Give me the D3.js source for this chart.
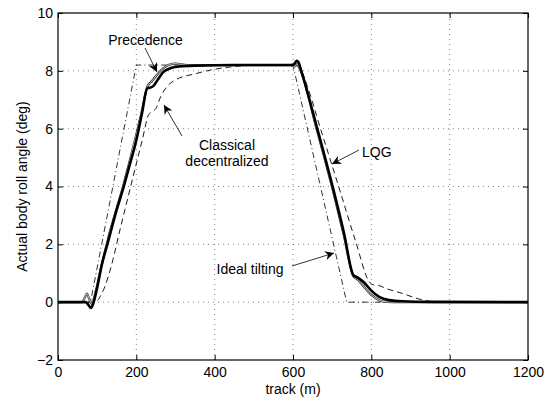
<!DOCTYPE html>
<html>
<head>
<meta charset="utf-8">
<script src="https://cdn.jsdelivr.net/npm/d3@7"></script>
<style>
  body { margin: 0; background: #fff; }
  svg text { font-family: "Liberation Sans", Arial, sans-serif; font-size: 14px; fill: #000; }
</style>
</head>
<body>
<div class="container"></div>
<script>
var w = 558, h = 400;
var margin = {left: 58, right: 30, top: 13, bottom: 40};

// tick values
var xTicks = [0, 200, 400, 600, 800, 1000, 1200];
var yTicks = [-2, 0, 2, 4, 6, 8, 10];

// ideal tilting (dash-dot)
var trackIdeal = [0, 83, 200, 600, 737, 1200];
var rollIdeal  = [0, 0, 8.2, 8.2, 0, 0];

// LQG (thick solid)
var trackLQG = [0, 70, 78, 84, 90, 100, 112, 126, 150, 168, 180, 200, 214, 228, 236, 245, 255, 268, 285, 310, 350, 450, 550, 595, 602, 609, 614, 620, 660, 703, 730, 754, 765, 780, 800, 820, 845, 880, 950, 1200];
var rollLQG  = [0, 0, -0.1, -0.2, -0.05, 0.5, 1.3, 2.0, 3.2, 4.0, 4.6, 5.6, 6.5, 7.4, 7.42, 7.5, 7.7, 7.95, 8.08, 8.15, 8.18, 8.2, 8.2, 8.2, 8.22, 8.35, 8.3, 8.05, 6.1, 3.9, 2.4, 0.94, 0.85, 0.7, 0.4, 0.18, 0.07, 0.03, 0.01, 0];

// precedence (thin solid)
var trackPrec = [0, 62, 68, 74, 80, 86, 95, 110, 126, 168, 214, 228, 240, 255, 270, 285, 300, 330, 450, 595, 603, 610, 618, 660, 703, 730, 754, 765, 780, 800, 820, 840, 870, 1200];
var rollPrec  = [0, 0, 0.15, 0.3, 0.1, -0.05, 0.3, 1.2, 2.1, 4.1, 6.6, 7.45, 7.65, 7.9, 8.1, 8.22, 8.25, 8.2, 8.2, 8.2, 8.15, 8.25, 8.05, 6.0, 3.8, 2.3, 0.9, 0.78, 0.55, 0.25, 0.07, 0.01, 0, 0];

// classical decentralized (dashed)
var trackClass = [0, 92, 100, 110, 120, 133, 160, 196, 215, 232, 242, 250, 262, 275, 295, 320, 345, 380, 450, 520, 600, 612, 625, 637, 648, 660, 690, 720, 760, 795, 805, 818, 840, 880, 916, 950, 1000, 1200];
var rollClass  = [0, 0, 0.05, 0.25, 0.55, 1.1, 2.6, 4.57, 5.6, 6.5, 6.6, 6.7, 7.1, 7.4, 7.65, 7.8, 7.88, 8.0, 8.15, 8.2, 8.2, 8.15, 7.9, 7.45, 7.0, 6.45, 5.15, 3.85, 2.1, 0.7, 0.6, 0.58, 0.46, 0.3, 0.13, 0.03, 0, 0];

function zip(a, b) { return a.map(function(d, i){ return [d, b[i]]; }); }

var x = d3.scaleLinear().domain([0, 1200]).range([margin.left, w - margin.right]);
var y = d3.scaleLinear().domain([-2, 10]).range([h - margin.bottom, margin.top]);

var svg = d3.select(".container").append("svg").attr("width", w).attr("height", h);

// grid
var grid = svg.append("g").attr("stroke", "#666").attr("stroke-width", 0.8).attr("stroke-dasharray", "1,4");
grid.selectAll("line.gx").data(xTicks.slice(1, -1)).enter().append("line")
  .attr("x1", function(d){ return x(d); }).attr("x2", function(d){ return x(d); })
  .attr("y1", y(-2)).attr("y2", y(10));
grid.selectAll("line.gy").data(yTicks.slice(1, -1)).enter().append("line")
  .attr("y1", function(d){ return y(d); }).attr("y2", function(d){ return y(d); })
  .attr("x1", x(0)).attr("x2", x(1200));

// axes with inner ticks on all sides
function styleAxis(g) {
  g.select(".domain").remove();
  g.selectAll("line").attr("stroke", "#000");
}
var fmt = d3.format("d");
svg.append("g").attr("transform", "translate(0," + y(-2) + ")")
  .call(d3.axisBottom(x).tickValues(xTicks).tickSize(-5).tickPadding(7).tickFormat(fmt))
  .call(styleAxis)
  .selectAll("text").style("font-size", "14px").style("font-family", "Liberation Sans, Arial, sans-serif");
svg.append("g").attr("transform", "translate(0," + y(10) + ")")
  .call(d3.axisTop(x).tickValues(xTicks).tickSize(-5).tickFormat(""))
  .call(styleAxis);
svg.append("g").attr("transform", "translate(" + x(0) + ",0)")
  .call(d3.axisLeft(y).tickValues(yTicks).tickSize(-5).tickPadding(5))
  .call(styleAxis)
  .selectAll("text").style("font-size", "14px").style("font-family", "Liberation Sans, Arial, sans-serif");
svg.append("g").attr("transform", "translate(" + x(1200) + ",0)")
  .call(d3.axisRight(y).tickValues(yTicks).tickSize(-5).tickFormat(""))
  .call(styleAxis);

var line = d3.line().x(function(d){ return x(d[0]); }).y(function(d){ return y(d[1]); });
var smooth = d3.line().curve(d3.curveMonotoneX).x(function(d){ return x(d[0]); }).y(function(d){ return y(d[1]); });

svg.append("path").datum(zip(trackIdeal, rollIdeal)).attr("d", line)
  .attr("fill", "none").attr("stroke", "#000").attr("stroke-width", 0.8).attr("stroke-dasharray", "6,3,1,3");
svg.append("path").datum(zip(trackClass, rollClass)).attr("d", smooth)
  .attr("fill", "none").attr("stroke", "#000").attr("stroke-width", 0.9).attr("stroke-dasharray", "6,4");
svg.append("path").datum(zip(trackPrec, rollPrec)).attr("d", smooth)
  .attr("fill", "none").attr("stroke", "#333").attr("stroke-width", 2.2);
svg.append("path").datum(zip(trackPrec, rollPrec)).attr("d", smooth)
  .attr("fill", "none").attr("stroke", "#ddd").attr("stroke-width", 0.9);
svg.append("path").datum(zip(trackLQG, rollLQG)).attr("d", smooth)
  .attr("fill", "none").attr("stroke", "#000").attr("stroke-width", 2.6);

// frame
svg.append("rect").attr("x", x(0)).attr("y", y(10))
  .attr("width", x(1200) - x(0)).attr("height", y(-2) - y(10))
  .attr("fill", "none").attr("stroke", "#000").attr("stroke-width", 1.2);

// labels
svg.append("text").attr("x", (x(0) + x(1200)) / 2).attr("y", 394).attr("text-anchor", "middle").text("track (m)");
svg.append("text").attr("transform", "translate(27," + (y(4)) + ") rotate(-90)")
  .attr("text-anchor", "middle").text("Actual body roll angle (deg)");

// annotations
svg.append("defs").append("marker").attr("id", "ah").attr("viewBox", "0 0 10 10")
  .attr("refX", 10).attr("refY", 5).attr("markerWidth", 12).attr("markerHeight", 9)
  .attr("markerUnits", "userSpaceOnUse").attr("orient", "auto")
  .append("path").attr("d", "M0,0 L10,5 L0,10 L3,5 Z").attr("fill", "#000");

function note(txt, tx, ty, anchor, a) {
  var t = svg.append("text").attr("x", tx).attr("y", ty).attr("text-anchor", anchor);
  txt.forEach(function(s, i){ t.append("tspan").attr("x", tx).attr("dy", i ? 16 : 0).text(s); });
  svg.append("line").attr("x1", a[0]).attr("y1", a[1]).attr("x2", a[2]).attr("y2", a[3])
    .attr("stroke", "#000").attr("stroke-width", 0.8).attr("marker-end", "url(#ah)");
}
note(["Precedence"], 145.5, 45, "middle", [145, 48, 157, 72]);
note(["Classical", "decentralized"], 227, 150, "middle", [182, 136, 164, 105]);
note(["LQG"], 362, 157, "start", [359, 150, 332, 164]);
note(["Ideal tilting"], 250, 274, "middle", [292, 266, 334, 253]);
</script>
</body>
</html>
